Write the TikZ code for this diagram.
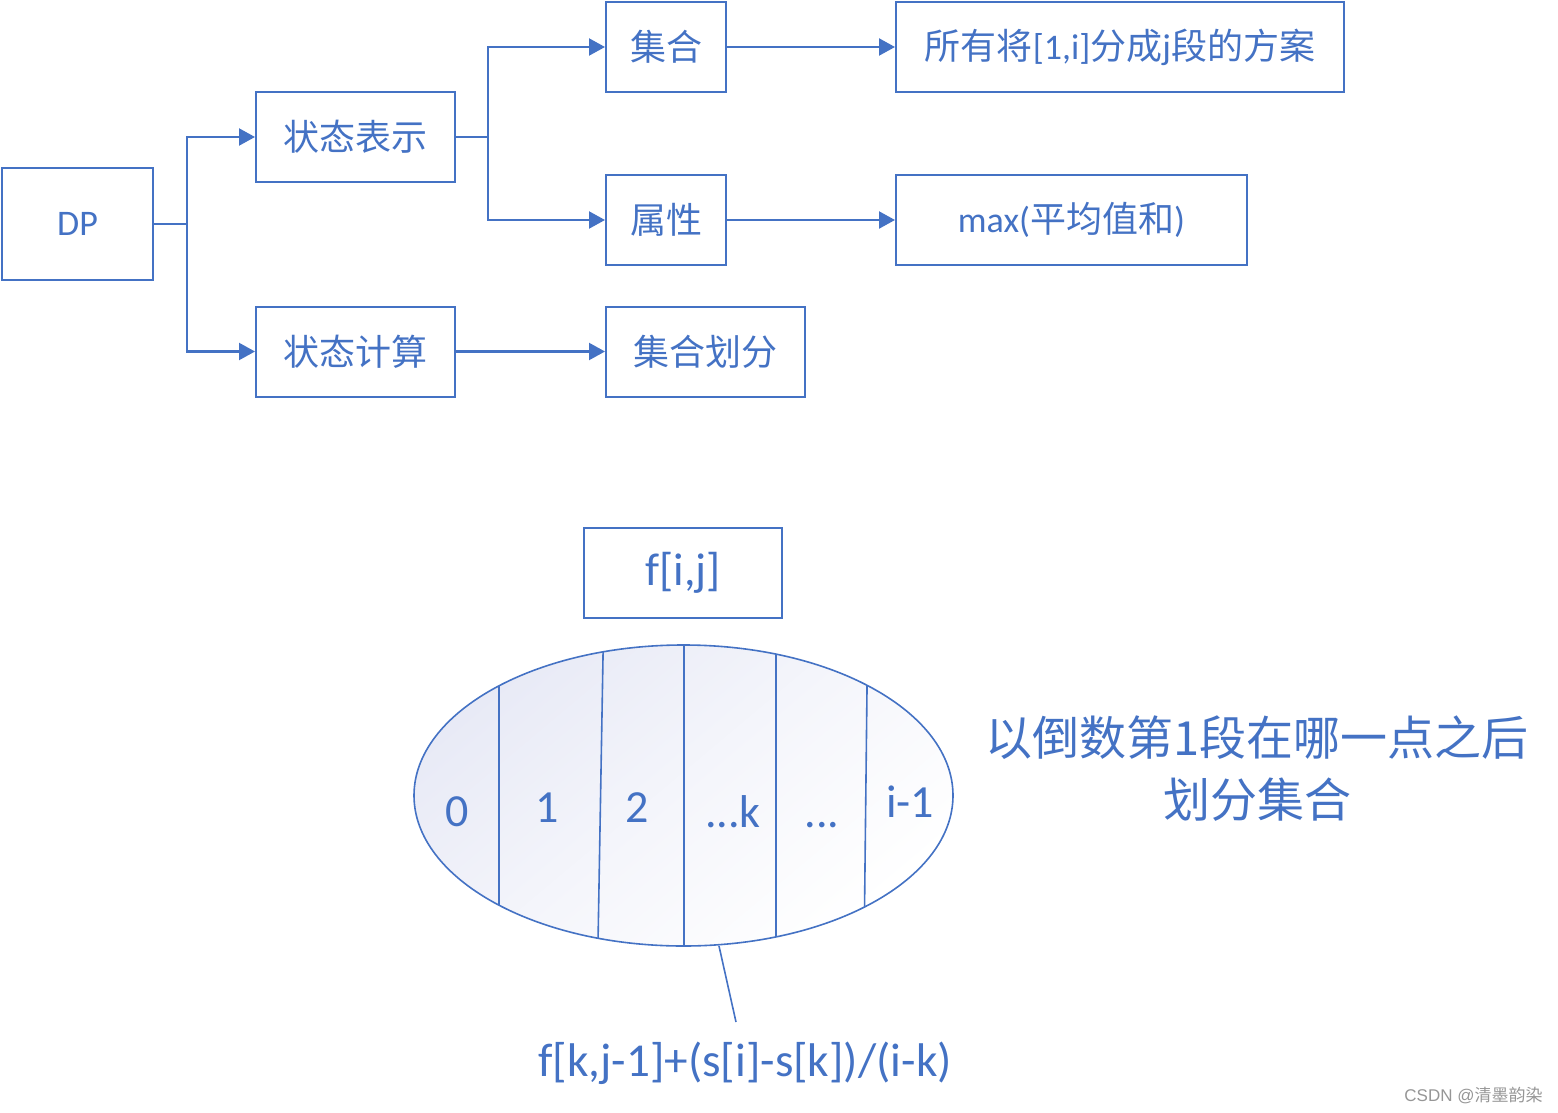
\documentclass[tikz,border=0pt]{standalone}
\usepackage{fontspec}
\setmainfont{Carlito}
\newfontfamily\cjk{Noto Sans CJK SC}
\newfontfamily\arialf{Liberation Sans}
\usetikzlibrary{arrows.meta,shapes.geometric}
\definecolor{dpblue}{HTML}{4472C4}
\definecolor{lav}{RGB}{232,234,246}
\definecolor{wm}{RGB}{150,150,150}
\begin{document}
\begin{tikzpicture}[x=0.5pt,y=-0.5pt,
  box/.style={draw=dpblue, line width=1pt, text=dpblue, minimum height=45pt, inner sep=0pt, font=\fontsize{18}{20}\selectfont},
  conn/.style={draw=dpblue, line width=1.1pt},
  arr/.style={conn, -{Triangle[length=8pt,width=8.5pt]}},
  thinl/.style={draw=dpblue, line width=0.8pt},
  lbl/.style={text=dpblue, inner sep=0pt, anchor=base, font=\fontsize{23}{26}\selectfont},
]
\useasboundingbox (0,0) rectangle (1558,1113);

% top tree
\node[box, minimum width=75.5pt, minimum height=56pt] (dp) at (77.5,224) {DP};
\node[box, minimum width=99.5pt] (repr) at (355.5,137) {\cjk 状态表示};
\node[box, minimum width=99.5pt] (calc) at (355.5,351.5) {\cjk 状态计算};
\node[box, minimum width=60pt] (set) at (666,47) {\cjk 集合};
\node[box, minimum width=60pt] (attr) at (666,220) {\cjk 属性};
\node[box, minimum width=99.5pt] (part) at (705.5,351.5) {\cjk 集合划分};
\node[box, minimum width=224pt] (all) at (1120,47) {{\cjk 所有将}[1,i]{\cjk 分成}j{\cjk 段的方案}};
\node[box, minimum width=175.5pt] (max) at (1071.5,220) {max({\cjk 平均值和})};

\coordinate (j1) at (187,224);
\coordinate (j2) at (488,137);
\draw[arr] (dp.east) -- (j1) |- (repr.west);
\draw[arr] (j1) |- (calc.west);
\draw[arr] (repr.east) -- (j2) |- (set.west);
\draw[arr] (j2) |- (attr.west);
\draw[arr] (set.east) -- (all.west);
\draw[arr] (attr.east) -- (max.west);
\draw[arr] (calc.east) -- (part.west);

% f[i,j]
\node[box, minimum width=99pt, font=\fontsize{23}{26}\selectfont] (fij) at (683,573) {f[i,j]};

% ellipse
\shade[top color=lav, bottom color=white, middle color=lav!45!white, shading angle=40] (683.5,795.5) ellipse [x radius=134.75pt, y radius=75.25pt];
\begin{scope}
  \clip (683.5,795.5) ellipse [x radius=134.75pt, y radius=75.25pt];
  \draw[thinl] (499,600) -- (499,1000);
  \draw[thinl] (604,600) -- (597,1000);
  \draw[thinl] (684,600) -- (684,1000);
  \draw[thinl] (776,600) -- (776,1000);
  \draw[thinl] (868,600) -- (863.5,1000);
\end{scope}
\draw[thinl] (683.5,795.5) ellipse [x radius=134.75pt, y radius=75.25pt];

\node[lbl] (l0) at (457,826) {0};
\node[lbl] (l1) at (547,822) {1};
\node[lbl] (l2) at (637,822) {2};
\node[lbl] (l3) at (733,827) {...k};
\node[lbl] (l4) at (822,827) {...};
\node[lbl] (l5) at (910,817) {i-1};

% right text
\node[text=dpblue, align=center, inner sep=0pt, font=\fontsize{23.5}{31}\selectfont\cjk] (note) at (1257,769) {以倒数第1段在哪一点之后\\划分集合};

% formula
\node[lbl, font=\fontsize{23.6}{26}\selectfont] (form) at (745,1076) {f[k,j-1]+(s[i]-s[k])/(i-k)};
\coordinate (eb) at (719,946);
\coordinate (fe) at (736,1022);
\draw[thinl] (eb) -- (fe);

% watermark
\node[anchor=east, text=wm, inner sep=0pt, font=\fontsize{8.5}{10}\selectfont\arialf] (wmk) at (1543,1095) {CSDN @{\cjk 清墨韵染}};
\end{tikzpicture}
\end{document}
